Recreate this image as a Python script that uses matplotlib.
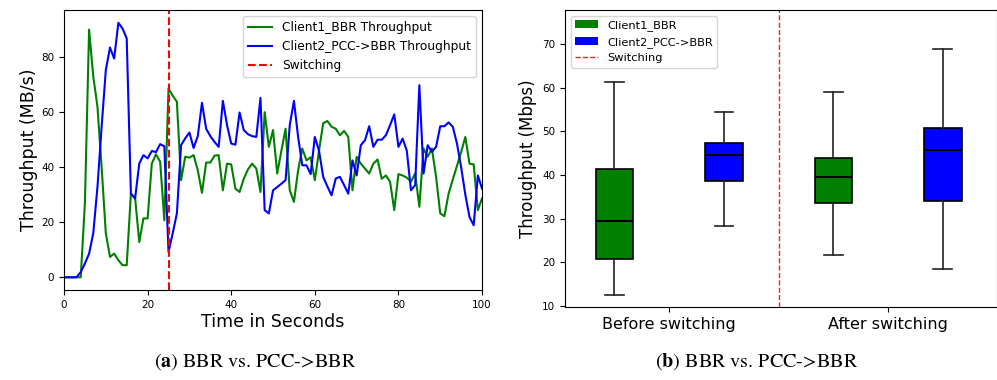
import matplotlib
matplotlib.use("Agg")
import numpy as np
import matplotlib.pyplot as plt
from matplotlib.patches import Patch
from matplotlib.lines import Line2D

# --------------------------------------------------------------------------- #
# Data
# --------------------------------------------------------------------------- #

time_s = list(range(0, 101))

client1_bbr = [
    0, 0, 0, 0, 0, 27, 90, 73, 62, 40,
    16, 7.4, 8.6, 6.2, 4.4, 4.4, 30.4, 29, 12.8, 21.4,
    21.4, 41.3, 44.7, 42, 20.7, 68.6, 66, 63.8, 35.3, 43.8,
    43.5, 44.4, 38.9, 30.7, 41.7, 41.7, 44.2, 44.4, 31.6, 41.3,
    41, 32.2, 31, 35.8, 39.2, 41.3, 39.5, 31, 60, 47.4,
    53.5, 37.7, 46, 54, 31.6, 27.4, 38.9, 46.8, 42.5, 43.6,
    35.3, 46, 56, 56.8, 54.7, 54, 51.6, 53.2, 51, 31.6,
    43.8, 41.3, 39.5, 37.7, 41.3, 42.8, 35.8, 37, 34.7, 24.4,
    37.5, 37, 36.2, 34.7, 37.7, 25.6, 46.8, 43.8, 46.8, 36.5,
    23.2, 22.2, 30.4, 35.5, 40.5, 45.5, 51, 41.3, 41, 24.4,
    28.7,
]

client2_pcc_bbr = [
    0, 0, 0, 0, 1.9, 5, 8.6, 16, 32.8, 54.7,
    75.3, 83.5, 79.5, 92.5, 90.4, 86.8, 30.4, 28.6, 41.3, 44.4,
    43.2, 45.9, 45.5, 48.4, 47.6, 9.2, 16, 23.2, 48, 50.5,
    52.6, 47, 51.3, 63.4, 54, 51.3, 49.2, 47.4, 64.1, 55.3,
    48.6, 48.2, 59.9, 53.5, 52, 51.3, 51, 65.2, 24.4, 23.2,
    31.6, 32.8, 34, 35.3, 55.3, 64.1, 51, 40.7, 40.7, 37.5,
    51, 46, 36.5, 33, 29.8, 35.9, 36.5, 33.5, 30.4, 42.5,
    37, 48, 49.8, 54.9, 47.4, 50, 50, 51.6, 55.3, 59.2,
    47.4, 50.4, 46, 31.6, 33.5, 69.8, 37.7, 48, 45.6, 47.4,
    54.9, 54.9, 56.3, 54.7, 48.6, 40, 30, 21.9, 18.9, 37,
    32.2,
]

switch_time = 25

# box stats: whislo, q1, med, q3, whishi
groups = ["Before switching", "After switching"]
bbr_box = [
    [12.4, 20.7, 29.5, 41.3, 61.4],
    [21.6, 33.6, 39.5, 43.9, 59.0],
]
pcc_box = [
    [28.3, 38.7, 44.5, 47.3, 54.5],
    [18.5, 34.1, 45.7, 50.7, 69.0],
]


def _stats(vals, label):
    lo, q1, med, q3, hi = vals
    return {"whislo": lo, "q1": q1, "med": med, "q3": q3, "whishi": hi,
            "fliers": [], "label": label}


fig = plt.figure(figsize=(9.97, 3.8), dpi=100)

# --------------------------------------------------------------------------- #
# (a) time series
# --------------------------------------------------------------------------- #
ax1 = fig.add_axes([0.0642, 0.2368, 0.4193, 0.7368])
ax1.plot(time_s, client1_bbr, color="green", lw=1.5,
         label="Client1_BBR Throughput")
ax1.plot(time_s, client2_pcc_bbr, color="blue", lw=1.5,
         label="Client2_PCC->BBR Throughput")
ax1.axvline(switch_time, color="red", ls="--", lw=1.5, label="Switching")
ax1.set_xlim(0, 100)
ax1.set_xticks([0, 20, 40, 60, 80, 100])
ax1.set_yticks([0, 20, 40, 60, 80])
ax1.tick_params(labelsize=7.5)
ax1.set_xlabel("Time in Seconds", fontsize=12.5, labelpad=2)
ax1.set_ylabel("Throughput (MB/s)", fontsize=12.5, labelpad=2)
ax1.legend(loc="upper right", fontsize=8.8)

# --------------------------------------------------------------------------- #
# (b) box plots
# --------------------------------------------------------------------------- #
ax2 = fig.add_axes([0.5667, 0.1913, 0.4328, 0.7824])
centers = np.array([1.0, 2.0])
offset = 0.25
width = 0.172
stats_bbr = [_stats(v, g) for v, g in zip(bbr_box, groups)]
stats_pcc = [_stats(v, g) for v, g in zip(pcc_box, groups)]
common = dict(widths=width, patch_artist=True, showfliers=False,
              medianprops=dict(color="black", lw=1.5),
              whiskerprops=dict(color="#222222", lw=1.2),
              capprops=dict(color="#222222", lw=1.2))
ax2.bxp(stats_bbr, positions=centers - offset,
        boxprops=dict(facecolor="green", edgecolor="black", lw=1.2),
        **common)
ax2.bxp(stats_pcc, positions=centers + offset,
        boxprops=dict(facecolor="blue", edgecolor="black", lw=1.2),
        **common)
ax2.axvline(1.5, color="#ff2020", ls="--", lw=1.0)
ax2.set_xlim(0.524, 2.495)
ax2.set_ylim(9.6, 77.9)
ax2.set_xticks(centers)
ax2.set_xticklabels(groups, fontsize=11.5)
ax2.set_yticks([10, 20, 30, 40, 50, 60, 70])
ax2.tick_params(axis="y", labelsize=7.5)
ax2.set_ylabel("Throughput (Mbps)", fontsize=12)
handles = [Patch(facecolor="green", label="Client1_BBR"),
           Patch(facecolor="blue", label="Client2_PCC->BBR"),
           Line2D([], [], color="#ff2020", ls="--", lw=1.0, label="Switching")]
ax2.legend(handles=handles, loc="upper left", fontsize=8.2)

# --------------------------------------------------------------------------- #
# captions
# --------------------------------------------------------------------------- #
plt.rcParams["mathtext.fontset"] = "stix"
fig.text(255 / 997, 1 - 362 / 380, r"($\mathbf{a}$) BBR vs. PCC->BBR",
         ha="center", va="center", fontsize=14.5, family="STIXGeneral")
fig.text(757 / 997, 1 - 362 / 380, r"($\mathbf{b}$) BBR vs. PCC->BBR",
         ha="center", va="center", fontsize=14.5, family="STIXGeneral")

fig.savefig("out.png", dpi=100)
